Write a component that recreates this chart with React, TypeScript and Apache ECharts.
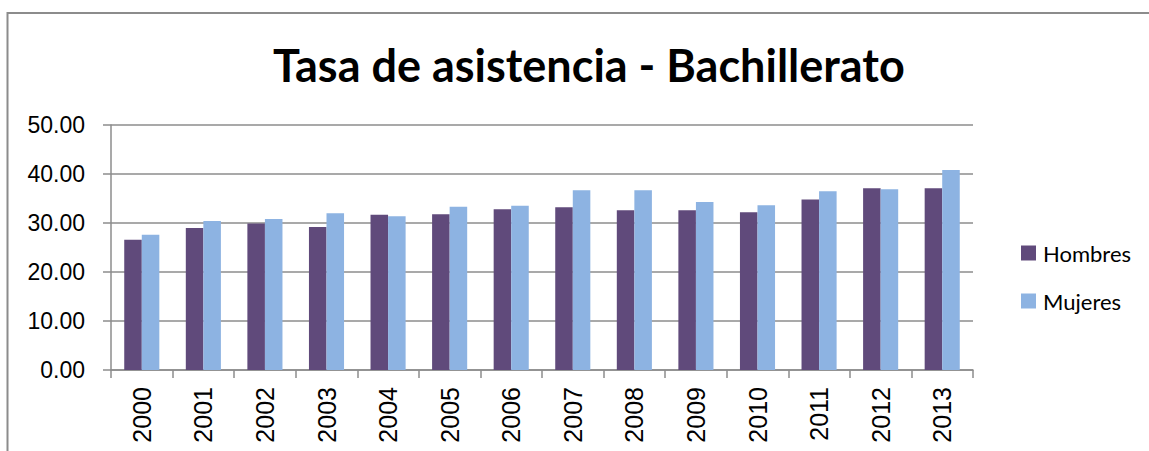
import React, { useEffect, useRef } from "react";
import * as echarts from "echarts";

const categories = ["2000","2001","2002","2003","2004","2005","2006","2007","2008","2009","2010","2011","2012","2013"];
const hombres = [26.6, 29.0, 29.9, 29.2, 31.7, 31.8, 32.8, 33.2, 32.6, 32.6, 32.2, 34.8, 37.1, 37.1];
const mujeres = [27.6, 30.4, 30.8, 32.0, 31.4, 33.3, 33.5, 36.7, 36.7, 34.3, 33.6, 36.5, 36.9, 40.8];

export default function App() {
  const ref = useRef<HTMLDivElement>(null);
  useEffect(() => {
    const chart = echarts.init(ref.current!, null, { renderer: "svg" });
    const font = "Lato, 'Open Sans', sans-serif";
    const numFont = "'Liberation Sans', Arial, sans-serif";
    chart.setOption({
      animation: false,
      backgroundColor: "#ffffff",
      textStyle: { fontFamily: font },
      title: {
        text: "Tasa de asistencia - Bachillerato",
        left: 268,
        top: 37,
        textStyle: { fontSize: 45, fontWeight: "bold", color: "#000", fontFamily: font },
      },
      graphic: [
        {
          type: "polyline",
          shape: { points: [[7.5, 470], [7.5, 13], [1170, 13]] },
          style: { stroke: "#8c8c8c", lineWidth: 2, fill: "none" },
          silent: true,
        },
      ],
      legend: {
        orient: "vertical",
        left: 1016,
        top: 237,
        itemWidth: 15,
        itemHeight: 15,
        itemGap: 26,
        icon: "rect",
        textStyle: { fontSize: 22, color: "#000", fontFamily: font, padding: [0, 0, 0, 2] },
        data: ["Hombres", "Mujeres"],
      },
      grid: { left: 111, right: 176, top: 125, bottom: 81, containLabel: false },
      xAxis: {
        type: "category",
        data: categories,
        axisLine: { lineStyle: { color: "#8c8c8c", width: 1.5 } },
        axisTick: { show: true, length: 8, alignWithLabel: false, lineStyle: { color: "#8c8c8c", width: 1.5 } },
        axisLabel: { rotate: 90, fontSize: 25, color: "#000", margin: 17, fontFamily: numFont },
      },
      yAxis: {
        type: "value",
        min: 0,
        max: 50,
        interval: 10,
        axisLine: { show: true, lineStyle: { color: "#8c8c8c", width: 1.5 } },
        axisTick: { show: true, length: 8, inside: false, lineStyle: { color: "#8c8c8c", width: 1.5 } },
        axisLabel: { fontSize: 23, color: "#000", margin: 26, formatter: (v: number) => v.toFixed(2), fontFamily: numFont },
        splitLine: { lineStyle: { color: "#8c8c8c", width: 1.5 } },
      },
      series: [
        { name: "Hombres", type: "bar", data: hombres, itemStyle: { color: "#604A7B" }, barGap: "0%", barCategoryGap: "43%" },
        { name: "Mujeres", type: "bar", data: mujeres, itemStyle: { color: "#8DB3E2" }, barGap: "0%", barCategoryGap: "43%" },
      ],
    });
    return () => chart.dispose();
  }, []);
  return <div ref={ref} style={{ width: 1149, height: 451, position: "absolute", left: 0, top: 0 }} />;
}
